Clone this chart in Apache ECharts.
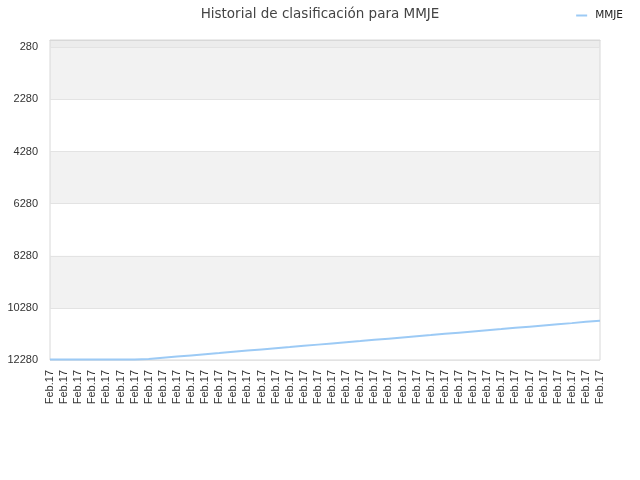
<!DOCTYPE html>
<html>
<head>
<meta charset="utf-8">
<title>Historial de clasificación para MMJE</title>
<script src="https://cdn.jsdelivr.net/npm/echarts@6/dist/echarts.min.js"></script>
<style>
    html, body { margin: 0; padding: 0; background: #fff; }
    #rankChart { width: 640px; height: 480px; }
</style>
</head>
<body>
<div id="rankChart"></div>
<script>
// datos
var chartTitle = 'Historial de clasificación para MMJE';
var seriesName = 'MMJE';

var fechas = [];
for (var k = 0; k < 40; k++) { fechas.push('Feb.17'); }

var posiciones = [
    12265, 12265, 12265, 12265, 12265, 12265, 12265, 12240,
    12195, 12150, 12105, 12060, 12015, 11965, 11920, 11875,
    11830, 11785, 11735, 11690, 11645, 11600, 11555, 11505,
    11460, 11415, 11370, 11325, 11275, 11230, 11185, 11140,
    11095, 11045, 11000, 10955, 10910, 10865, 10815, 10770
];

var ejeMin = 0;
var ejeMax = 12280;
var marcasY = [280, 2280, 4280, 6280, 8280, 10280, 12280];
</script>
<script>
(function () {
    "use strict";

    var fuente = 'DejaVu Sans';
    var fuenteEjes = 'Liberation Sans';

    // bandas grises alternas del fondo
    var bandas = [
        [{ yAxis: ejeMin, itemStyle: { color: '#ececec' } }, { yAxis: marcasY[0] }],
        [{ yAxis: marcasY[0], itemStyle: { color: '#f2f2f2' } }, { yAxis: marcasY[1] }],
        [{ yAxis: marcasY[2], itemStyle: { color: '#f2f2f2' } }, { yAxis: marcasY[3] }],
        [{ yAxis: marcasY[4], itemStyle: { color: '#f2f2f2' } }, { yAxis: marcasY[5] }]
    ];

    var option = {
        animation: false,
        title: {
            text: chartTitle,
            left: 'center',
            top: 2,
            textStyle: { fontSize: 13.5, fontWeight: 'normal', color: '#444', fontFamily: fuente }
        },
        legend: {
            right: 12,
            top: 5,
            icon: 'rect',
            itemWidth: 11,
            itemHeight: 2,
            textStyle: { fontSize: 10.5, color: '#222', fontFamily: fuente, padding: [0, 0, 0, 3] },
            data: [seriesName]
        },
        grid: {
            left: 50,
            right: 40,
            top: 40,
            bottom: 120,
            show: true,
            borderColor: '#d8d8d8',
            borderWidth: 1
        },
        xAxis: {
            type: 'category',
            boundaryGap: false,
            data: fechas,
            axisLine: { show: true, lineStyle: { color: '#d8d8d8' } },
            axisTick: { show: false },
            axisLabel: {
                interval: 0,
                rotate: 90,
                fontSize: 11,
                fontFamily: fuenteEjes,
                color: '#333',
                margin: 10
            },
            splitLine: { show: false }
        },
        yAxis: {
            type: 'value',
            inverse: true,
            min: ejeMin,
            max: ejeMax,
            axisLine: { show: false },
            axisTick: { show: false, customValues: marcasY },
            axisLabel: {
                fontSize: 11,
                fontFamily: fuenteEjes,
                color: '#333',
                margin: 12,
                customValues: marcasY,
                formatter: function (v) { return String(v); }
            },
            splitLine: { show: true, lineStyle: { color: '#e3e3e3' } },
            splitArea: { show: false }
        },
        series: [
            {
                name: seriesName,
                type: 'line',
                data: posiciones,
                showSymbol: false,
                symbol: 'none',
                lineStyle: { width: 2, color: '#9ccaf5' },
                itemStyle: { color: '#9ccaf5' },
                z: 3,
                markArea: {
                    silent: true,
                    z: -1,
                    data: bandas
                }
            }
        ]
    };

    var chart = echarts.init(document.getElementById('rankChart'));
    chart.setOption(option);
})();
</script>
</body>
</html>
